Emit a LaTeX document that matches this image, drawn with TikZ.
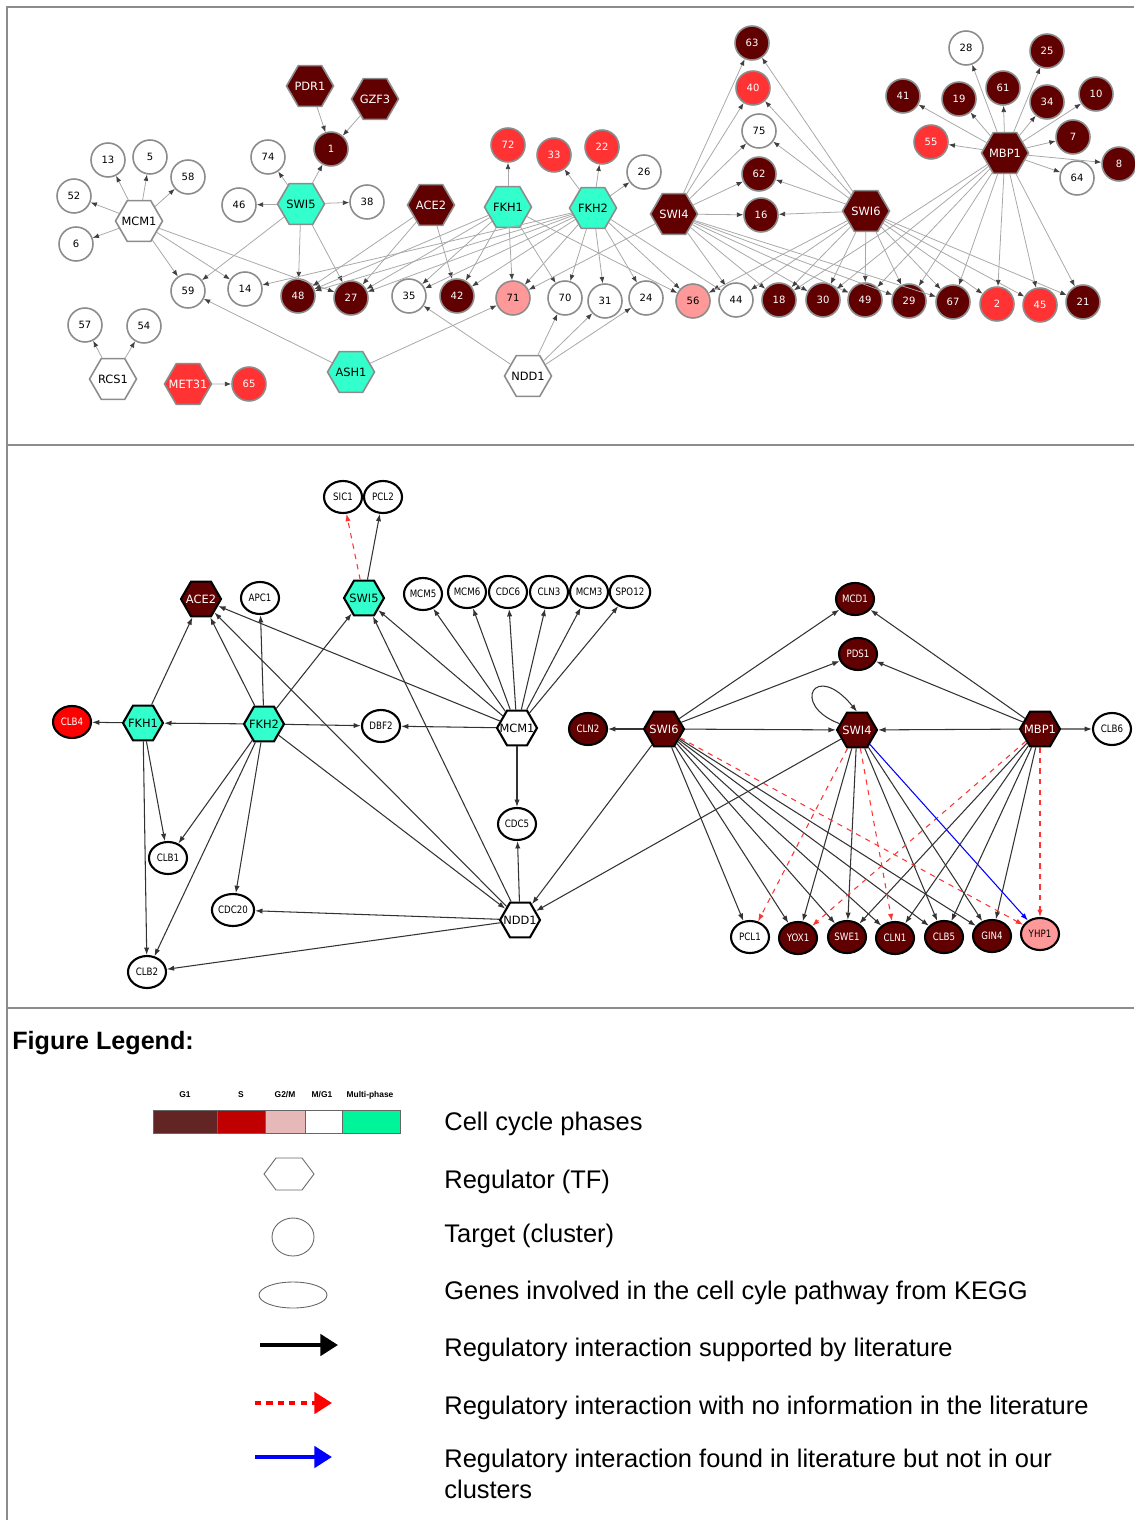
\documentclass[tikz,border=0pt]{standalone}
\usepackage{fontspec}
\setmainfont{Liberation Sans}
\newfontfamily\netfont{DejaVu Sans}
\newfontfamily\genefont[FakeStretch=0.85]{DejaVu Sans}
\usetikzlibrary{shapes.geometric,arrows.meta}

\definecolor{cgone}{HTML}{600000}
\definecolor{cphs}{HTML}{FF3333}
\definecolor{cpink}{HTML}{FF9999}
\definecolor{cmulti}{HTML}{33FFCC}
\definecolor{cedge}{HTML}{A8A8A8}
\definecolor{cframe}{HTML}{8C8C8C}
\definecolor{barga}{HTML}{632523}
\definecolor{bargb}{HTML}{C00000}
\definecolor{bargc}{HTML}{E6B8B7}
\definecolor{bargd}{HTML}{00F59A}

\tikzset{
  tnode/.style={draw=cframe, line width=0.9pt, inner sep=0pt},
  tclu/.style={tnode, circle, minimum size=0.68cm, font=\netfont\fontsize{5.7}{6}\selectfont},
  thex/.style={tnode, regular polygon, regular polygon sides=6, minimum size=0.94cm, font=\netfont\fontsize{6.5}{7}\selectfont},
  tedge/.style={draw=cedge, line width=0.45pt, -{Latex[length=3.6pt,width=2.8pt,color=black!75]}},
  bnode/.style={draw=black, line width=1.2pt, inner sep=0pt},
  bgene/.style={bnode, ellipse, minimum width=0.76cm, minimum height=0.64cm, font=\genefont\fontsize{5.8}{6}\selectfont},
  bhex/.style={bnode, regular polygon, regular polygon sides=6, minimum size=0.8cm, font=\netfont\fontsize{6.5}{7}\selectfont},
  bedge/.style={draw=black!80, line width=0.6pt, -{Latex[length=4.2pt,width=3pt]}},
  bnolit/.style={draw=red!80, line width=0.6pt, dashed, -{Latex[length=4.2pt,width=3pt]}},
  bmiss/.style={draw=blue, line width=0.6pt, -{Latex[length=4.2pt,width=3pt]}},
  legtext/.style={anchor=west, inner sep=0pt, font=\fontsize{14.5}{17.5}\selectfont},
  phase/.style={font=\bfseries\fontsize{4.8}{5}\selectfont},
}

\begin{document}
\begin{tikzpicture}[x=0.02cm, y=-0.02cm]
  \useasboundingbox (0,0) rectangle (1134,1520);
  % frames
  \draw[cframe, line width=0.6pt] (1134,7) -- (7,7) -- (7,1520);
  \draw[cframe, line width=0.6pt] (7,445) -- (1134,445);
  \draw[cframe, line width=0.6pt] (7,1008) -- (1134,1008);

  % ---- clusters network ----
  \foreach \n/\x/\y/\f/\t in {
    MCM1/139/221/white/black, SWI5/301/204/cmulti/black, PDR1/310/86/cgone/white,
    GZF3/375/99/cgone/white, ACE2/431/205/cgone/white, FKH1/508/207/cmulti/black,
    FKH2/593/208/cmulti/black, SWI4/674/214/cgone/white, SWI6/866/211/cgone/white,
    MBP1/1005/153/cgone/white, ASH1/351/372/cmulti/black, NDD1/528/376/white/black,
    RCS1/113/379/white/black, MET31/188/384/cphs/white}
    \node[thex, fill=\f, text=\t] (t\n) at (\x,\y) {\makebox[0pt]{\n}};

  \foreach \n/\x/\y/\f/\t in {
    13/108/160/white/black, 5/150/157/white/black, 58/188/177/white/black,
    52/74/196/white/black, 6/76/244/white/black, 74/268/157/white/black,
    1/331/149/cgone/white, 46/239/205/white/black, 38/367/202/white/black,
    72/508/145/cphs/white, 33/554/155/cphs/white, 22/602/147/cphs/white,
    26/644/172/white/black, 63/752/43/cgone/white, 40/753/88/cphs/white,
    75/759/131/white/black, 62/759/174/cgone/white, 16/761/215/cgone/white,
    28/966/48/white/black, 25/1047/51/cgone/white, 41/903/96/cgone/white,
    19/959/99/cgone/white, 61/1003/88/cgone/white, 34/1047/102/cgone/white,
    10/1096/94/cgone/white, 55/931/142/cphs/white, 7/1073/137/cgone/white,
    8/1119/164/cgone/white, 64/1077/178/white/black,
    59/188/291/white/black, 14/245/289/white/black, 48/298/296/cgone/white,
    27/351/298/cgone/white, 35/409/296/white/black, 42/457/296/cgone/white,
    71/513/298/cpink/black, 70/565/298/white/black, 31/605/301/white/black,
    24/646/298/white/black, 56/693/301/cpink/black, 44/736/300/white/black,
    18/779/300/cgone/white, 30/823/300/cgone/white, 49/865/300/cgone/white,
    29/909/301/cgone/white, 67/953/302/cgone/white, 2/997/304/cphs/white,
    45/1040/305/cphs/white, 21/1083/302/cgone/white,
    57/85/325/white/black, 54/144/326/white/black, 65/249/384/cphs/white}
    \node[tclu, fill=\f, text=\t] (t\n) at (\x,\y) {\n};

  \foreach \s/\e in {
    MCM1/13, MCM1/5, MCM1/58, MCM1/52, MCM1/6, MCM1/59, MCM1/14, MCM1/27,
    SWI5/74, SWI5/1, SWI5/46, SWI5/38, SWI5/59, SWI5/48, SWI5/27,
    PDR1/1, GZF3/1, ACE2/48, ACE2/27, ACE2/42,
    FKH1/72, FKH1/71, FKH1/42, FKH1/35, FKH1/70, FKH1/48, FKH1/27, FKH1/56,
    FKH2/33, FKH2/22, FKH2/26, FKH2/14, FKH2/48, FKH2/27, FKH2/35, FKH2/42,
    FKH2/71, FKH2/70, FKH2/31, FKH2/24, FKH2/56, FKH2/44,
    SWI4/63, SWI4/40, SWI4/75, SWI4/62, SWI4/16, SWI4/71, SWI4/44, SWI4/18,
    SWI4/30, SWI4/49, SWI4/29, SWI4/67,
    SWI6/63, SWI6/40, SWI6/75, SWI6/62, SWI6/16, SWI6/56, SWI6/44, SWI6/18,
    SWI6/30, SWI6/49, SWI6/29, SWI6/67, SWI6/2, SWI6/45, SWI6/21,
    MBP1/28, MBP1/25, MBP1/41, MBP1/19, MBP1/61, MBP1/34, MBP1/10, MBP1/55,
    MBP1/7, MBP1/8, MBP1/64, MBP1/18, MBP1/30, MBP1/49, MBP1/29, MBP1/67,
    MBP1/2, MBP1/45, MBP1/21,
    ASH1/59, ASH1/71, NDD1/35, NDD1/70, NDD1/31, NDD1/24,
    RCS1/57, RCS1/54, MET31/65}
    \draw[tedge] (t\s) -- (t\e);

  % ---- KEGG genes network ----
  \foreach \n/\x/\y/\f/\t in {
    ACE2/201/599/cgone/white, SWI5/364/598/cmulti/black, FKH1/143/723/cmulti/black,
    FKH2/264/724/cmulti/black, MCM1/517/728/white/black, SWI6/664/729/cgone/white,
    SWI4/857/730/cgone/white, MBP1/1040/729/cgone/white, NDD1/520/920/white/black}
    \node[bhex, fill=\f, text=\t] (b\n) at (\x,\y) {\makebox[0pt]{\n}};

  \foreach \n/\x/\y/\f/\t in {
    SIC1/343/497/white/black, PCL2/383/497/white/black, APC1/260/598/white/black,
    MCM5/423/594/white/black, MCM6/467/592/white/black, CDC6/508/592/white/black,
    CLN3/549/592/white/black, MCM3/589/592/white/black, SPO12/630/592/white/black,
    CLB4/72/722/red/white, DBF2/381/726/white/black, CLN2/588/729/cgone/white,
    CLB6/1112/729/white/black, MCD1/855/599/cgone/white, PDS1/858/654/cgone/white,
    CLB1/168/858/white/black, CDC5/517/824/white/black, CDC20/233/910/white/black,
    CLB2/147/972/white/black, PCL1/750/937/white/black, YOX1/798/938/cgone/white,
    SWE1/847/937/cgone/white, CLN1/895/938/cgone/white, CLB5/944/937/cgone/white,
    GIN4/992/936/cgone/white, YHP1/1040/934/cpink/black}
    \node[bgene, fill=\f, text=\t] (b\n) at (\x,\y) {\n};

  \foreach \s/\e in {
    SWI5/PCL2, FKH1/ACE2, FKH1/CLB4, FKH1/CLB1, FKH1/CLB2,
    FKH2/ACE2, FKH2/APC1, FKH2/SWI5, FKH2/FKH1, FKH2/DBF2, FKH2/CLB1,
    FKH2/CLB2, FKH2/CDC20, FKH2/NDD1,
    MCM1/ACE2, MCM1/SWI5, MCM1/MCM5, MCM1/MCM6, MCM1/CDC6, MCM1/CLN3,
    MCM1/MCM3, MCM1/SPO12, MCM1/DBF2, MCM1/CDC5,
    NDD1/ACE2, NDD1/SWI5, NDD1/CDC5, NDD1/CDC20, NDD1/CLB2,
    SWI6/NDD1, SWI4/NDD1, SWI6/CLN2, SWI6/MCD1, SWI6/PDS1, SWI6/SWI4,
    SWI6/PCL1, SWI6/YOX1, SWI6/SWE1, SWI6/CLN1, SWI6/CLB5, SWI6/GIN4,
    SWI4/YOX1, SWI4/SWE1, SWI4/CLB5, SWI4/GIN4,
    MBP1/MCD1, MBP1/PDS1, MBP1/SWI4, MBP1/CLB6,
    MBP1/SWE1, MBP1/CLN1, MBP1/CLB5, MBP1/GIN4}
    \draw[bedge] (b\s) -- (b\e);
  \foreach \s/\e in {SWI5/SIC1, SWI6/YHP1, SWI4/PCL1, SWI4/CLN1, MBP1/YOX1, MBP1/YHP1}
    \draw[bnolit] (b\s) -- (b\e);
  \draw[bmiss] (bSWI4) -- (bYHP1);
  \draw[bedge] (bSWI4.160) .. controls (790,705) and (815,660) .. (bSWI4.north);

  % ---- legend ----
  \node[anchor=west, inner sep=0pt, font=\bfseries\fontsize{14.3}{17}\selectfont] (legtitle) at (12,1043) {Figure Legend:};
  \foreach \a/\b/\c/\lab/\m in {153/217/barga/G1/185, 217/265/bargb/S/241, 265/305/bargc/G2\slash M/285,
    305/342/white/M\slash G1/322, 342/400/bargd/Multi-phase/370}
  {
    \draw[fill=\c, draw=black!60, line width=0.5pt] (\a,1110) rectangle (\b,1133);
    \node[phase] at (\m,1095) {\lab};
  }
  \draw[draw=black!60, line width=0.5pt] (264,1174) -- (276,1158) -- (302,1158) -- (314,1174) -- (302,1190) -- (276,1190) -- cycle;
  \node[ellipse, draw=black!60, line width=0.5pt, minimum width=0.84cm, minimum height=0.76cm] (legtarget) at (293,1237) {};
  \node[ellipse, draw=black!60, line width=0.5pt, minimum width=1.36cm, minimum height=0.52cm] (leggene) at (293,1295) {};
  \coordinate (litA) at (260,1345);  \coordinate (litB) at (338,1345);
  \coordinate (noA) at (255,1403);   \coordinate (noB) at (332,1403);
  \coordinate (missA) at (255,1457); \coordinate (missB) at (332,1457);
  \draw[line width=2.4pt, -{Triangle[length=10pt,width=12pt]}] (litA) -- (litB);
  \draw[red, line width=2.4pt, dash pattern=on 3.5pt off 3pt, -{Triangle[length=10pt,width=12pt]}] (noA) -- (noB);
  \draw[blue, line width=2.4pt, -{Triangle[length=10pt,width=12pt]}] (missA) -- (missB);

  \node[legtext] (lgphase) at (444,1124) {Cell cycle phases};
  \node[legtext] (lgreg) at (444,1182) {Regulator (TF)};
  \node[legtext] (lgtarget) at (444,1236) {Target (cluster)};
  \node[legtext] (lggene) at (444,1293) {Genes involved in the cell cyle pathway from KEGG};
  \node[legtext] (lglit) at (444,1350) {Regulatory interaction supported by literature};
  \node[legtext] (lgno) at (444,1408) {Regulatory interaction with no information in the literature};
  \node[legtext, align=left] (lgmiss) at (444,1474) {Regulatory interaction found in literature but not in our\\clusters};
\end{tikzpicture}
\end{document}
